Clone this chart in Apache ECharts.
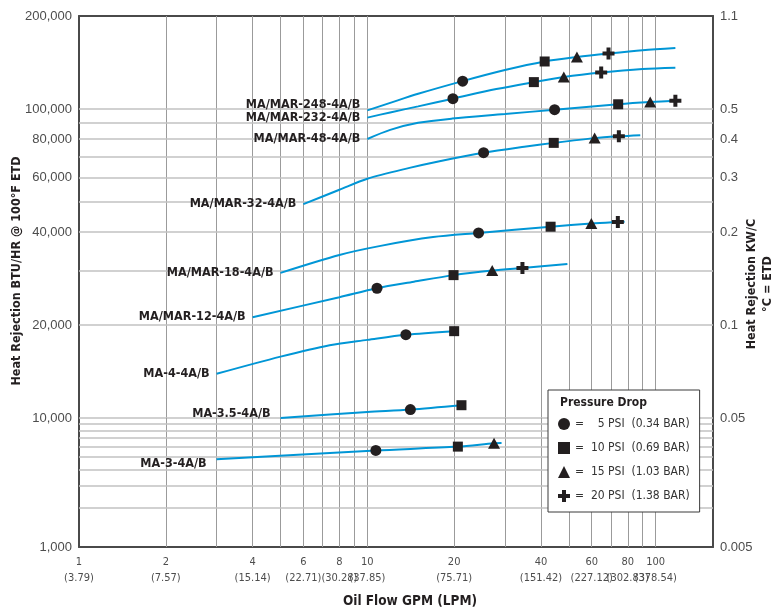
<!DOCTYPE html>
<html>
<head>
<meta charset="utf-8">
<script src="https://cdn.jsdelivr.net/npm/echarts@6/dist/echarts.min.js"></script>
<style>html,body{margin:0;padding:0;background:#fff}#chart{width:781px;height:612px}</style>
</head>
<body>
<div id="chart"></div>
<script>
// ---------- DATA ----------
const modelNames = ['MA/MAR-248-4A/B','MA/MAR-232-4A/B','MA/MAR-48-4A/B','MA/MAR-32-4A/B','MA/MAR-18-4A/B','MA/MAR-12-4A/B','MA-4-4A/B','MA-3.5-4A/B','MA-3-4A/B'];
// [GPM, BTU/HR]
const curve248 = [[10,99000],[12,104700],[15,112000],[21.4,123100],[30,133700],[41.2,142500],[53.3,147300],[68.6,151200],[90,155000],[117,157600]];
const curve232 = [[10,93800],[12,97500],[15,102000],[19.8,108000],[28,116000],[37.8,122200],[48,126900],[64.7,131200],[90,134700],[117,136000]];
const curve48  = [[10,80000],[12,85600],[15,90200],[19.7,93100],[30,96300],[44.6,99500],[74.1,103600],[95.7,105300],[117,106300]];
const curve32  = [[6,49200],[8,54800],[10,59500],[14,64500],[17.8,67800],[25.3,72200],[35,75500],[44.3,77700],[61.4,80500],[74.5,81600],[88.4,82300]];
const curve18  = [[5,29500],[8,33700],[11,36000],[16.9,38500],[24.3,39700],[43.2,41600],[59.8,42600],[73.9,43100],[78,43200]];
const curve12  = [[4,21200],[8,24600],[10.8,26300],[14.5,27600],[19.9,29000],[27.1,30000],[34.5,30600],[49.4,31500]];
const curve4   = [[3,13900],[5,15800],[7.4,17200],[10,17900],[13.6,18600],[20,19100]];
const curve35  = [[5,10000],[10,10450],[14.1,10650],[21.2,11000]];
const curve3   = [[3,4780],[10.7,5600],[20.6,6000],[27.5,6370],[29.2,6400]];

const pressureNames = ['  5 PSI  (0.34 BAR)','10 PSI  (0.69 BAR)','15 PSI  (1.03 BAR)','20 PSI  (1.38 BAR)'];
const points5psi  = [[21.4,123100],[19.8,108000],[44.6,99500],[25.3,72200],[24.3,39700],[10.8,26300],[13.6,18600],[14.1,10650],[10.7,5600]];
const points10psi = [[41.2,142500],[37.8,122200],[74.1,103600],[44.3,77700],[43.2,41600],[19.9,29000],[20,19100],[21.2,11000],[20.6,6000]];
const points15psi = [[53.3,147300],[48,126900],[95.7,105300],[61.4,80500],[59.8,42600],[27.1,30000],[27.5,6370]];
const points20psi = [[68.6,151200],[64.7,131200],[117,106300],[74.5,81600],[73.9,43100],[34.5,30600]];

const gpmGridLines = [2,3,4,5,6,7,8,9,10,20,30,40,50,60,70,80,90,100];
const gpmTickValues = [1,2,4,6,8,10,20,40,60,80,100];
const lpmTickLabels = ['(3.79)','(7.57)','(15.14)','(22.71)','(30.28)','(37.85)','(75.71)','(151.42)','(227.12)','(302.83)','(378.54)'];
const btuGridUpper = [10000,20000,30000,40000,50000,60000,70000,80000,90000,100000];
const btuGridLower = [2000,3000,4000,5000,6000,7000,8000,9000];
const btuTickValues = [200000,100000,80000,60000,40000,20000,10000,1000];
const btuTickLabels = ['200,000','100,000','80,000','60,000','40,000','20,000','10,000','1,000'];
const kwTickLabels = ['1.1','0.5','0.4','0.3','0.2','0.1','0.05','0.005'];

// ---------- STYLE ----------
const NARROW = "'Liberation Sans Narrow','Arial Narrow','DejaVu Sans Condensed',sans-serif";
const REG = "'Liberation Sans',Arial,Helvetica,sans-serif";
const INK = '#231f20';
const BLUE = '#0096d6';
const vLine = {color:'#9b9b9b', width:1, type:'solid'};
const hLine = {color:'#c2c2c2', width:1.6, type:'solid'};
const hidden = {color:'rgba(0,0,0,0)', width:1, type:'solid'};
const xLabStyle = {fontFamily:NARROW, fontSize:11, color:'#4d4d4d', lineHeight:16, distance:7, align:'center'};
const yLabStyle = {fontFamily:REG, fontSize:13, color:'#4d4d4d', distance:7};
const labelShift = [[0,-6],[0,0],[0,0],[0,0],[0,0],[0,0],[0,0],[-3,-4],[-3,4]];

const curves = [curve248,curve232,curve48,curve32,curve18,curve12,curve4,curve35,curve3];
const pressurePoints = [points5psi,points10psi,points15psi,points20psi];
const CROSS = 'path://M4,0H8V4H12V8H8V12H4V8H0V4H4Z';
const pressureSymbols = ['circle','rect','triangle',CROSS];
const pressureSizes = [11,10,[12,11],12];

function gridMarkLines(lower) {
  const items = [];
  gpmGridLines.forEach(v => {
    const item = {xAxis:v, lineStyle:vLine, label:{show:false}};
    const k = gpmTickValues.indexOf(v);
    if (lower && k >= 0) item.label = Object.assign({show:true, position:'start', formatter: v + '\n' + lpmTickLabels[k]}, xLabStyle);
    items.push(item);
  });
  if (lower) items.push({xAxis:gpmTickValues[0], lineStyle:hidden, label:Object.assign({show:true, position:'start', formatter: gpmTickValues[0] + '\n' + lpmTickLabels[0]}, xLabStyle)});
  (lower ? btuGridLower : btuGridUpper).forEach(v => items.push({yAxis:v, lineStyle:hLine, label:{show:false}}));
  btuTickValues.forEach((v,i) => {
    if ((v < 10000) !== lower) return;
    items.push({yAxis:v, lineStyle:hidden, label:Object.assign({show:true, position:'start', formatter:btuTickLabels[i]}, yLabStyle)});
    items.push({yAxis:v, lineStyle:hidden, label:Object.assign({show:true, position:'end', formatter:kwTickLabels[i]}, yLabStyle)});
  });
  return {silent:true, symbol:'none', animation:false, z:1, label:{show:false}, emphasis:{disabled:true}, data:items};
}

const series = [];
curves.forEach((c,i) => {
  const lower = Math.max.apply(null, c.map(p => p[1])) <= 10000;
  const s = {
    type:'line', name:modelNames[i], xAxisIndex: lower?1:0, yAxisIndex: lower?2:0,
    smooth:0.3, symbol:'circle', symbolSize:0, showSymbol:true, silent:true, z:3,
    lineStyle:{color:BLUE, width:2}, itemStyle:{color:BLUE}, emphasis:{disabled:true},
    label:{show:false},
    data: c.map((p,j) => j === 0 ? {value:p, label:{show:true, position:'left', distance:7, offset:labelShift[i],
      formatter:modelNames[i], fontFamily:NARROW, fontWeight:'bold', fontSize:12.5, color:INK}} : p)
  };
  if (i === 0) s.markLine = gridMarkLines(false);
  if (i === curves.length - 1) s.markLine = gridMarkLines(true);
  series.push(s);
});
pressurePoints.forEach((pts,k) => {
  const up = pts.filter(p => p[1] >= 10000), lo = pts.filter(p => p[1] < 10000);
  const base = {type:'scatter', name:pressureNames[k], symbol:pressureSymbols[k], symbolSize:pressureSizes[k],
    itemStyle:{color:INK, opacity:1}, z:4, silent:true, emphasis:{disabled:true}};
  series.push(Object.assign({}, base, {xAxisIndex:0, yAxisIndex:0, data:up}));
  if (lo.length) series.push(Object.assign({}, base, {xAxisIndex:1, yAxisIndex:2, data:lo}));
});

const border = {show:true, onZero:false, lineStyle:{color:'#4a4a4a', width:2}};
const off = {show:false};
const option = {
  animation:false,
  backgroundColor:'#fff',
  grid:[
    {left:79, right:68, top:16, height:402},
    {left:79, right:68, top:418, height:129}
  ],
  xAxis:[
    {type:'log', gridIndex:0, min:1, max:158, position:'top', axisLine:border, axisTick:off, axisLabel:off, splitLine:off},
    {type:'log', gridIndex:1, min:1, max:158, position:'bottom', axisLine:border, axisTick:off, axisLabel:off, splitLine:off,
      name:'Oil Flow GPM (LPM)', nameLocation:'middle', nameGap:47,
      nameTextStyle:{fontFamily:NARROW, fontWeight:'bold', fontSize:13.5, color:INK, padding:[0,0,0,28]}}
  ],
  yAxis:[
    {type:'log', gridIndex:0, min:10000, max:200000, position:'left', axisLine:border, axisTick:off, axisLabel:off, splitLine:off},
    {type:'log', gridIndex:0, min:10000, max:200000, position:'right', axisLine:border, axisTick:off, axisLabel:off, splitLine:off},
    {type:'log', gridIndex:1, min:1000, max:10000, position:'left', axisLine:border, axisTick:off, axisLabel:off, splitLine:off},
    {type:'log', gridIndex:1, min:1000, max:10000, position:'right', axisLine:border, axisTick:off, axisLabel:off, splitLine:off}
  ],
  title:{text:'Pressure Drop', left:560, top:397, padding:0,
    textStyle:{fontFamily:NARROW, fontWeight:'bold', fontSize:12, color:INK}},
  legend:{
    orient:'vertical', left:548, top:390, data:pressureNames, selectedMode:false,
    backgroundColor:'#fff', borderColor:'#3a3a3a', borderWidth:1, padding:[28,10,10,10],
    itemGap:12, itemWidth:12, itemHeight:12,
    formatter: n => '=  ' + n,
    textStyle:{fontFamily:NARROW, fontSize:12, color:'#333'}
  },
  graphic:[
    {type:'text', x:17, y:271, rotation:Math.PI/2,
      style:{text:'Heat Rejection BTU/HR @ 100°F ETD', align:'center', verticalAlign:'middle',
        font:"bold 12.5px 'Liberation Sans Narrow','Arial Narrow','DejaVu Sans Condensed',sans-serif", fill:INK}},
    {type:'text', x:760, y:284, rotation:Math.PI/2,
      style:{text:'Heat Rejection KW/C\n°C = ETD', align:'center', verticalAlign:'middle', lineHeight:16,
        font:"bold 12.5px 'Liberation Sans Narrow','Arial Narrow','DejaVu Sans Condensed',sans-serif", fill:INK}}
  ],
  series: series
};
const chart = echarts.init(document.getElementById('chart'), null, {renderer:'canvas'});
chart.setOption(option);
</script>
</body>
</html>
